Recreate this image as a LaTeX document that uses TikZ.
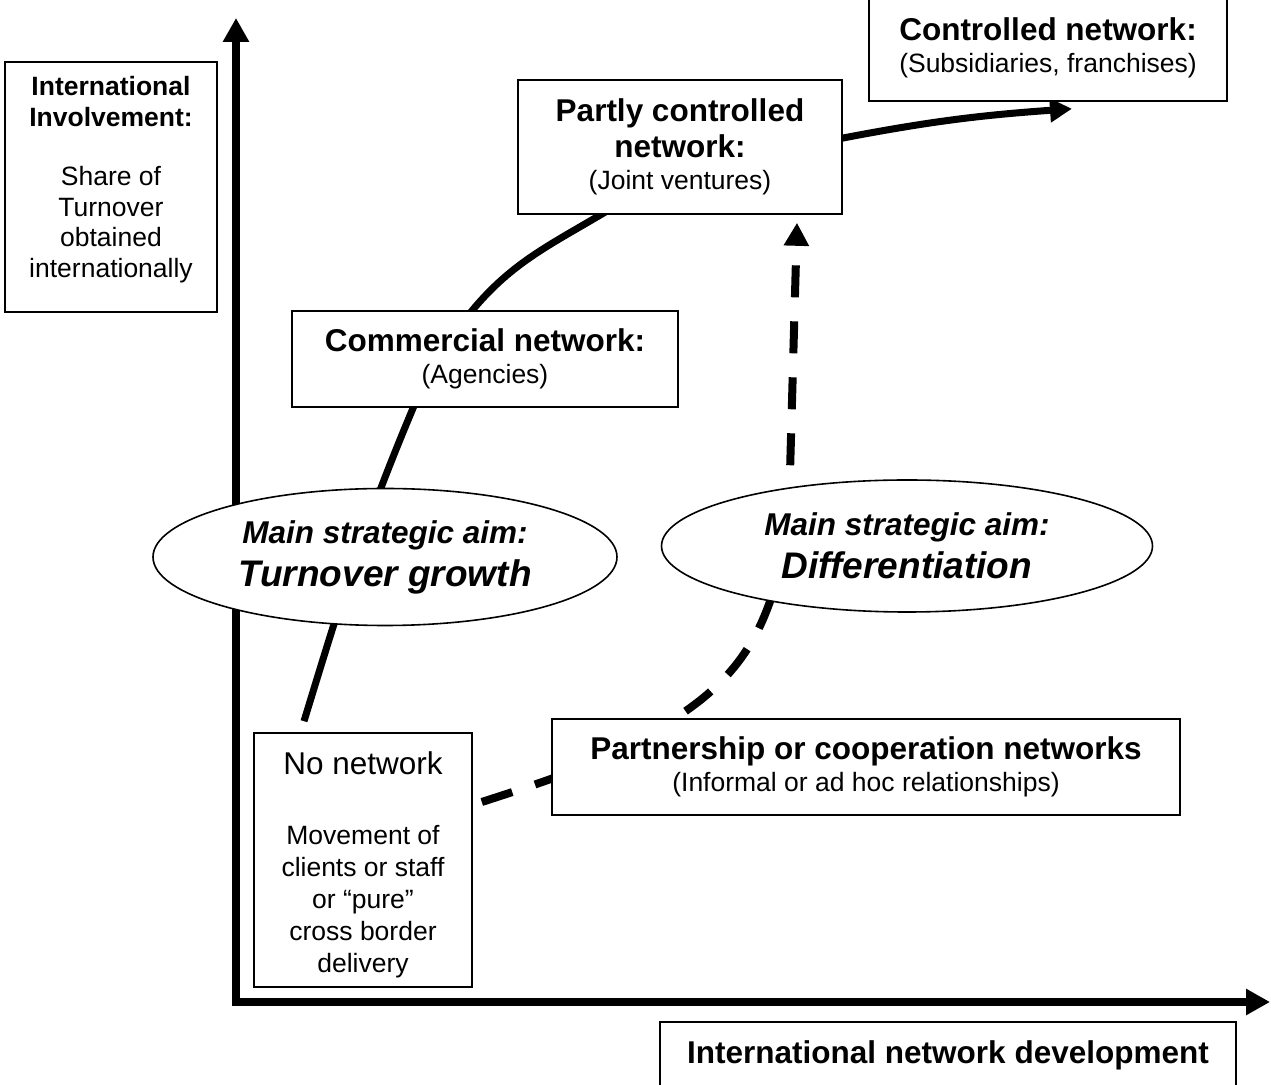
\documentclass[tikz,border=0pt]{standalone}
\usepackage{fontspec}
\setmainfont{Liberation Sans}
\usetikzlibrary{positioning,arrows.meta,shapes.geometric,backgrounds}
\newcommand{\hd}{\bfseries\fontsize{31.5}{35}\selectfont}
\newcommand{\bigaim}{\fontsize{37}{41}\selectfont}

\begin{document}
\begin{tikzpicture}[x=1pt, y=1pt, font=\fontsize{26.5}{30.5}\selectfont,
	box/.style={draw, line width=1.6pt, fill=white, align=center, inner sep=0pt},
	aim/.style={draw, ellipse, line width=1.6pt, fill=white, align=center, inner sep=0pt, font=\bfseries\itshape\fontsize{31.5}{38}\selectfont},
	axis/.style={line width=8pt, {Triangle[length=24pt,width=25pt]}-{Triangle[length=24pt,width=25pt]}},
	growthpart/.style={line width=7pt},
	growth/.style={growthpart, -{Triangle[length=22pt,width=23pt]}},
	devlink/.style={line width=8pt, dash pattern=on 32pt off 24pt, -{Triangle[length=23pt,width=24pt]}}]
		\useasboundingbox (0,0) rectangle (1271,1084);
		\node[box, minimum width=212pt, minimum height=250pt] (involve) at (111,897) {{\bfseries International}\\{\bfseries Involvement:}\\[29pt]Share of\\Turnover\\obtained\\internationally\\[-10pt]\mbox{}};
		\node[box, minimum width=358pt, minimum height=106pt] (ctrl) at (1048,1036) {{\hd Controlled network:}\\[1pt](Subsidiaries, franchises)};
		\node[box, minimum width=324pt, minimum height=134pt] (partly) at (680,937) {{\hd Partly controlled}\\[5pt]{\hd network:}\\[2pt](Joint ventures)};
		\node[box, minimum width=386pt, minimum height=96pt] (comm) at (485,725) {{\hd Commercial network:}\\[2pt](Agencies)};
		\node[aim, minimum width=464pt, minimum height=137pt] (growthaim) at (385,527) {Main strategic aim:\\[5pt]{\bigaim Turnover growth}};
		\node[aim, minimum width=491pt, minimum height=132pt] (diffaim) at (907,538) {Main strategic aim:\\[5pt]{\bigaim Differentiation}};
		\node[box, minimum width=218pt, minimum height=254pt, font=\fontsize{26.5}{32}\selectfont] (nonet) at (363,224) {\mbox{}\\[1pt]{\fontsize{31.5}{35}\selectfont No network}\\[38pt]Movement of\\clients or staff\\or “pure”\\cross border\\delivery};
		\node[box, minimum width=628pt, minimum height=96pt] (partner) at (866,317) {{\hd Partnership or cooperation networks}\\[2pt](Informal or ad hoc relationships)};
		\node[box, minimum width=576pt, minimum height=66pt] (devt) at (948,29) {\hd International network development};
		\begin{scope}[on background layer]
			\coordinate (ytop) at (236,1066);
			\coordinate (orig) at (236,82);
			\coordinate (xend) at (1270,82);
			\draw[axis] (ytop) -- (orig) -- (xend);
			% growth curve
			\draw[growthpart] ([xshift=-59pt,yshift=11pt]nonet.north) to[out=73,in=247] ([xshift=-68pt,yshift=9pt]comm.south);
			\draw[growthpart] ([xshift=-19pt,yshift=-8pt]comm.north) to[out=52,in=211] ([xshift=-71pt,yshift=5pt]partly.south);
			\draw[growth] ([xshift=-10pt,yshift=7pt]partly.east) to[out=11,in=184] ([xshift=24pt,yshift=-7pt]ctrl.south);
			% differentiation curve
			\draw[devlink] ([xshift=9pt,yshift=58pt]nonet.east) to[out=18,in=213] ([xshift=-188pt,yshift=2pt]partner.north) to[out=33,in=252,out looseness=1.25,in looseness=0.75] ([xshift=-119pt,yshift=2pt]diffaim.center) -- ([xshift=117pt,yshift=-8pt]partly.south);
		\end{scope}
	\end{tikzpicture}
\end{document}
